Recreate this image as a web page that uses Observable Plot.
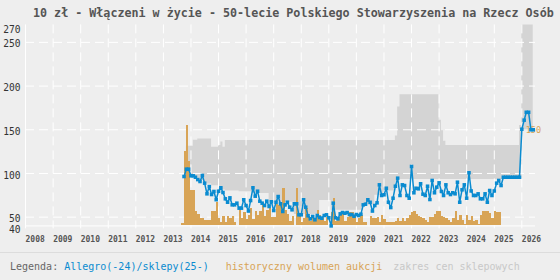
<!DOCTYPE html>
<html><head><meta charset="utf-8">
<script src="https://cdn.jsdelivr.net/npm/d3@7"></script>
<script src="https://cdn.jsdelivr.net/npm/@observablehq/plot@0.6"></script>
<style>
html,body{margin:0;padding:0;background:#eeeeee;}
body{width:560px;height:280px;overflow:hidden;font-family:"DejaVu Sans Mono",monospace;}
#title{height:14px;padding:6px 0 0 33px;font-weight:bold;font-size:11.7px;line-height:14px;color:#555;white-space:nowrap;}
#chart{height:232px;}
#chart svg{display:block;}
#legend{border-top:1px solid #dcdcdc;padding:0 0 0 10px;font-size:10px;line-height:27px;color:#666;white-space:nowrap;}
</style></head><body>
<div id="title">10 zł - Włączeni w życie - 50-lecie Polskiego Stowarzyszenia na Rzecz Osób</div>
<div id="chart"></div>
<div id="legend">Legenda: <span style="color:#0a8bd0">Allegro(-24)/sklepy(25-)</span><span style="color:#d8a456;margin-left:17px">historyczny wolumen aukcji</span><span style="color:#c8c8c8;margin-left:11px">zakres cen sklepowych</span></div>
<script>
// Monthly price (Allegro until 2024, shops from 2025), first month:
const priceStart = "2013-10";
const priceValues = [
  96.5, 104.9, 104.9, 97.3, 97.3, 95.7, 93, 90.8, 97.7, 88.9,
  76.7, 85, 75.9, 79.4, 70, 79.7, 83.6, 78.2, 71, 67.1,
  72.1, 64.1, 64.1, 66, 60.3, 60.3, 69.9, 63.3, 57, 69,
  83.6, 74, 79.7, 68.3, 66, 63.3, 68.3, 62.2, 67.6, 57.6,
  67.1, 73.6, 65.3, 56.5, 64.1, 67.1, 61.4, 58.4, 65.3, 65.3,
  52.7, 52.7, 69.9, 61.4, 51.6, 48.1, 50.8, 47, 51.9, 49.6,
  48.8, 51.9, 52.7, 49.3, 40, 66, 49.3, 48.1, 53.8, 55.3,
  54.5, 55.3, 53, 53, 51.1, 53, 51.9, 53.4, 64.1, 64.8,
  69.9, 67, 57, 63.3, 66.4, 87, 74.8, 75.6, 83.1, 67.1,
  61, 71.7, 85.4, 94.6, 74.8, 87, 86.2, 74.8, 71.7, 108,
  77.9, 83.1, 82.4, 88.2, 76.3, 74.8, 85.4, 70.2, 92, 77.9,
  84.3, 89.3, 79.4, 74.8, 87, 77.9, 75.9, 77.9, 76.7, 90,
  67.1, 81.3, 87, 71.7, 100.8, 80, 74.8, 74.8, 76.7, 71,
  71, 76.7, 67.1, 80.5, 74.8, 80, 88.9, 92, 86.2, 95.7,
  95.7, 95.7, 95.7, 95.7, 95.7, 95.7, 95.7, 150.6, 161, 170,
  170, 150, 150
];

// Monthly historical auction volume (drawn on the price axis), first month:
const volumeStart = "2013-09";
const volumeValues = [
  42.4, 125, 155, 113.7,
  80.5, 80.5, 56.8, 52.7, 48.8, 48.8, 45.8, 45.8, 45.8, 56.5, 56.5, 67.1,
  48.1, 43.5, 51.1, 44.2, 51.1, 48.1, 51.1, 44.2, 40.5, 60.3, 48.1, 55.7,
  47, 51.9, 59.5, 47, 56.8, 51.9, 56.5, 63.3, 51.1, 57.6, 60, 50,
  50, 64.1, 63.3, 63.3, 83.1, 57.6, 52.7, 45, 51.1, 40, 83.1, 51.9,
  43.5, 48.1, 59.5, 51.1, 45, 51.9, 49, 57.6, 51.9, 49, 45, 50,
  40, 55.7, 71, 45, 50, 51.9, 53.5, 45, 50, 55.7, 55.7, 51.9,
  44.2, 48, 51.9, 44.2, 44.2, 40.5, 51.1, 48.8, 48.8, 50, 43.5, 51.9,
  47, 43.5, 43.5, 43.5, 43.5, 45, 48.8, 45, 48.1, 45, 48.8, 51.9,
  55.7, 56.5, 52.7, 51, 50, 48.1, 46, 44.2, 50, 50, 53, 56.5,
  56.5, 51.1, 50, 48.8, 46.2, 44.2, 48.1, 56.5, 46.2, 51.9, 46, 41.3,
  51.9, 46.2, 51.1, 45, 46, 41.3, 51.9, 56.5, 56.5, 56.5, 53.8, 48.8,
  56.5, 55.3, 55.3
];

// Shop price range: months where the range changes, with low / high
const bandMonths = ["2013-11","2014-02","2014-04","2014-07","2014-10","2015-01","2015-02","2015-03","2015-04","2015-10",
  "2016-04","2016-11","2017-10","2018-09","2019-02","2020-04","2020-09","2021-01","2021-06","2021-07",
  "2021-08","2023-01","2023-02","2023-03","2023-04","2025-12","2026-01"];
const bandLow  = [98, 95, 92, 88, 86, 84, 82, 81, 80, 79, 77, 67, 53, 69, 58, 64, 75, 80, 90, 93, 93, 93, 93, 93, 93, 93, 150];
const bandHigh = [131, 138, 139.5, 139.5, 130, 132, 136, 130, 137.7, 137.7, 137.7, 137.7, 137.7, 137.7, 137.7, 137.7, 137.7, 137.7, 143, 176, 190, 161, 149, 137, 132, 155, 280];
const bandEnd = "2026-06";

const yTicks = [40, 50, 100, 150, 200, 250, 270];
const yGrid = [50, 100, 150, 200, 250];
const years = [2008,2009,2010,2011,2012,2013,2014,2015,2016,2017,2018,2019,2020,2021,2022,2023,2024,2025,2026];
const xDomain = ["2008-01", "2026-07"];

const blue = "#0a8bd0", orange = "#d8a456", bandColor = "#d4d4d4";

function month(s, k = 0) {
  const [y, m] = s.split("-").map(Number);
  return new Date(Date.UTC(y, m - 1 + k, 1));
}
const price = priceValues.map((v, i) => ({date: month(priceStart, i), value: v}));
const volume = volumeValues.map((v, i) => ({date: month(volumeStart, i), value: v}));
const band = bandMonths.map((m, i) => ({date: month(m), low: bandLow[i], high: bandHigh[i]}));
band.push({date: month(bandEnd), low: bandLow[bandLow.length - 1], high: bandHigh[bandHigh.length - 1]});
const yearDates = years.map(y => new Date(Date.UTC(y, 0, 1)));
const last = price[price.length - 1];
const yMin = yTicks[0], yMax = yTicks[yTicks.length - 1];
const yLabelStyle = {tickSize: 0, tickPadding: 5, fill: "#333", fontSize: 9.6, label: null};

const chart = Plot.plot({
  width: 560, height: 232,
  marginLeft: 25, marginRight: 25, marginTop: 4.4, marginBottom: 26.6,
  style: {background: "transparent", fontFamily: "DejaVu Sans Mono, monospace"},
  x: {type: "utc", domain: xDomain.map(s => month(s))},
  y: {domain: [yMin, yMax]},
  marks: [
    Plot.areaY(band, {x: "date", y1: "low", y2: "high", curve: "step-after", fill: bandColor, clip: true}),
    Plot.ruleY(yGrid, {stroke: "#fff", strokeDasharray: "9,5"}),
    Plot.ruleX(yearDates.slice(1), {stroke: "#fff", strokeDasharray: "9,5"}),
    Plot.rectY(volume, {x: "date", interval: d3.utcMonth, y1: yMin, y2: "value", fill: orange, inset: 0, shapeRendering: "crispEdges"}),
    Plot.ruleY([yMin], {stroke: "#fff"}),
    Plot.ruleX([yearDates[0]], {stroke: "#fff"}),
    Plot.axisY(yTicks.filter(t => t !== yMin && t !== yMax), {...yLabelStyle, dy: 2}),
    Plot.axisY([yMin], {...yLabelStyle, dy: 4.5}),
    Plot.axisY([yMax], {...yLabelStyle, dy: 5}),
    Plot.axisX(yearDates, {tickSize: 3, tickPadding: 7, stroke: "#fff", fill: "#555", fontSize: 8, fontWeight: "bold", textAnchor: "start", tickFormat: d3.utcFormat("%Y"), label: null}),
    Plot.text([last], {x: "date", y: "value", text: d => String(d.value), textAnchor: "start", dx: -7.5, fill: orange, fontSize: 8.5}),
    Plot.line(price, {x: "date", y: "value", stroke: blue, strokeWidth: 1.5}),
    Plot.dot(price, {x: "date", y: "value", symbol: "square", r: 2, fill: blue})
  ]
});
document.getElementById("chart").append(chart);
</script>
</body></html>
